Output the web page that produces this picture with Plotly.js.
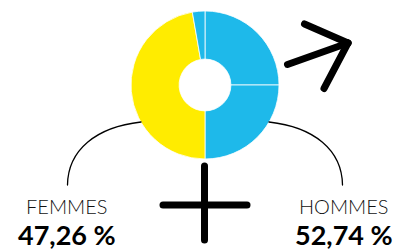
<!DOCTYPE html>
<html>
<head>
<meta charset="utf-8">
<script src="https://cdn.plot.ly/plotly-3.0.1.min.js"></script>
<style>html,body{margin:0;padding:0;background:#fff}#chart{width:400px;height:252px}</style>
</head>
<body>
<div id="chart"></div>
<script>
// Segments of the ring, clockwise from 12 o'clock
const segments = ['Hommes A', 'Hommes B', 'Femmes', 'Hommes C'];
const segmentValues = [25, 25, 47.26, 2.74];
const segmentColors = ['#1EB9EA', '#1EB9EA', '#FFEC00', '#1EB9EA'];

const groupLabels = ['FEMMES', 'HOMMES'];
const groupShares = ['47,26 %', '52,74 %'];

const W = 400, H = 252;
const px = x => x / W;
const py = y => 1 - y / H;

const cx = 205, cy = 85, r = 74;

const trace = {
  type: 'pie',
  labels: segments,
  values: segmentValues,
  sort: false,
  direction: 'clockwise',
  rotation: 0,
  hole: 0.35,
  textinfo: 'none',
  hoverinfo: 'none',
  showlegend: false,
  automargin: false,
  marker: {colors: segmentColors, line: {color: '#ffffff', width: 0.8}},
  domain: {x: [px(cx - r), px(cx + r)], y: [py(cy + r), py(cy - r)]}
};

function P(x, y) { return px(x) + ' ' + py(y); }
const lineStyle = {color: '#000', width: 7};
const shapes = [
  // connector arcs
  {type: 'path', xref: 'paper', yref: 'paper',
   path: 'M ' + P(141, 122) + ' C ' + P(96, 127) + ' ' + P(68, 150) + ' ' + P(67.5, 185),
   line: {color: '#000', width: 1.3}},
  {type: 'path', xref: 'paper', yref: 'paper',
   path: 'M ' + P(269, 122) + ' C ' + P(314, 127) + ' ' + P(342, 150) + ' ' + P(342.5, 185),
   line: {color: '#000', width: 1.3}},
  // female cross
  {type: 'line', xref: 'paper', yref: 'paper', x0: px(204.5), x1: px(204.5), y0: py(166), y1: py(240), line: lineStyle},
  {type: 'line', xref: 'paper', yref: 'paper', x0: px(163), x1: px(247), y0: py(205), y1: py(205), line: lineStyle},
  // male arrow
  {type: 'line', xref: 'paper', yref: 'paper', x0: px(287.5), x1: px(348), y0: py(64.5), y1: py(43), line: lineStyle},
  {type: 'line', xref: 'paper', yref: 'paper', x0: px(304.5), x1: px(348), y0: py(24), y1: py(43), line: lineStyle},
  {type: 'line', xref: 'paper', yref: 'paper', x0: px(348), x1: px(324), y0: py(43), y1: py(88.5), line: lineStyle}
];

const labelX = [67, 344];
const annotations = [];
groupLabels.forEach((t, i) => {
  annotations.push({xref: 'paper', yref: 'paper', x: px(labelX[i]), y: py(206), text: t,
    showarrow: false, xanchor: 'center', yanchor: 'middle',
    font: {family: 'Lato, sans-serif', size: 20, color: '#111', weight: 300}});
  annotations.push({xref: 'paper', yref: 'paper', x: px(labelX[i]), y: py(234), text: '<b>' + groupShares[i] + '</b>',
    showarrow: false, xanchor: 'center', yanchor: 'middle',
    font: {family: 'Lato, sans-serif', size: 27, color: '#000'}});
});

const layout = {
  width: W, height: H,
  margin: {l: 0, r: 0, t: 0, b: 0},
  paper_bgcolor: '#fff', plot_bgcolor: '#fff',
  shapes: shapes, annotations: annotations
};
Plotly.newPlot('chart', [trace], layout, {displayModeBar: false, staticPlot: true}).then(() => {
  // round caps for the symbol strokes
  document.querySelectorAll('.shapelayer path').forEach(p => { p.style.strokeLinecap = 'round'; });
});
</script>
</body>
</html>
